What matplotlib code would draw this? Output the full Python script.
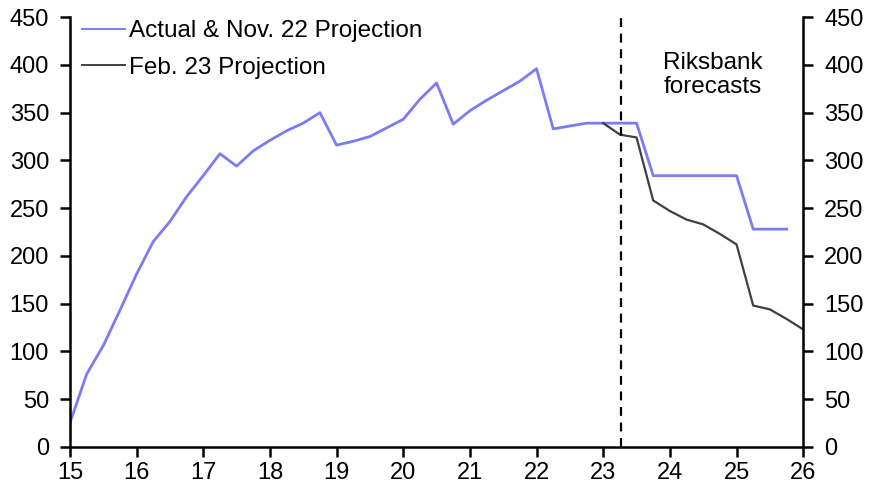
import matplotlib
matplotlib.use("Agg")
import matplotlib.pyplot as plt
import numpy as np

plt.rcParams['font.family'] = ['Liberation Sans', 'DejaVu Sans']

x_actual = [15.0, 15.25, 15.5, 15.75, 16.0, 16.25, 16.5, 16.75, 17.0, 17.25, 17.5, 17.75,
            18.0, 18.25, 18.5, 18.75, 19.0, 19.25, 19.5, 19.75, 20.0, 20.25, 20.5, 20.75,
            21.0, 21.25, 21.5, 21.75, 22.0, 22.25, 22.5, 22.75, 23.0, 23.25, 23.5, 23.75,
            24.0, 24.25, 24.5, 24.75, 25.0, 25.25, 25.5, 25.75]
y_actual = [25, 76, 106, 143, 181, 215, 236, 262, 284, 307, 294, 310,
            321, 331, 339, 350, 316, 320, 325, 334, 343, 364, 381, 338,
            352, 363, 373, 383, 396, 333, 336, 339, 339, 339, 339, 284,
            284, 284, 284, 284, 284, 228, 228, 228]

x_feb = [23.0, 23.25, 23.5, 23.75, 24.0, 24.25, 24.5, 24.75, 25.0, 25.25, 25.5, 25.75, 26.0]
y_feb = [339, 327, 324, 258, 247, 238, 233, 223, 212, 148, 144, 134, 123]

forecast_start = 23.27
labels = ["Actual & Nov. 22 Projection", "Feb. 23 Projection"]
xticks = list(range(15, 27))
yticks = list(range(0, 451, 50))

fig = plt.figure(figsize=(8.74, 4.9), dpi=100)
ax = fig.add_axes([0.080, 0.088, 0.839, 0.877])

ax.plot(x_actual, y_actual, color='#7B7BF5', lw=2.0, label=labels[0])
ax.plot(x_feb, y_feb, color='#404040', lw=1.6, label=labels[1])
ax.axvline(forecast_start, color='black', lw=1.6, ls=(0, (4, 3)))
ax.text(24.65, 389, "Riksbank\nforecasts", ha='center', va='center', fontsize=17.5, linespacing=1.12)

ax.set_xlim(15, 26)
ax.set_ylim(0, 450)
ax.set_xticks(xticks)
ax.set_yticks(yticks)
ax.spines['top'].set_visible(False)
for s in ['left', 'right', 'bottom']:
    ax.spines[s].set_linewidth(1.8)
ax.tick_params(axis='both', direction='out', length=7, width=1.8, labelsize=17)
ax.tick_params(axis='y', which='both', right=True, labelright=True, pad=8)
ax.tick_params(axis='x', pad=4)

leg = ax.legend(loc='upper left', bbox_to_anchor=(0.017, 0.993), frameon=False, fontsize=17.5,
                handlelength=1.75, handletextpad=0.15, labelspacing=0.6, borderaxespad=0.0,
                borderpad=0.0)
for h in leg.get_lines():
    h.set_linewidth(1.4)

fig.savefig("out.png", dpi=100)
